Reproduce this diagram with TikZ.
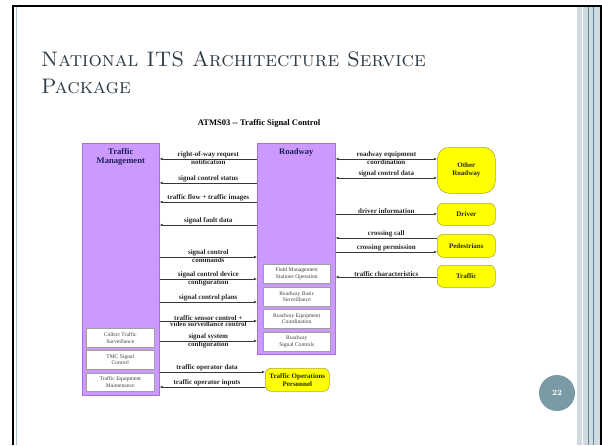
\documentclass[tikz,border=0pt]{standalone}
\usepackage{fontspec}
\newfontfamily\diagfont{Liberation Serif}
\usepackage{xcolor}
\usetikzlibrary{
    arrows.meta,
    calc,
    positioning
}
\definecolor{slidetitle}{RGB}{43,58,69}
\definecolor{frameblue}{RGB}{176,196,208}
\definecolor{stripe}{RGB}{208,219,225}
\definecolor{stripeline}{RGB}{95,136,150}
\definecolor{pagedot}{RGB}{122,155,165}
\definecolor{entviolet}{RGB}{204,153,255}
\definecolor{entedge}{RGB}{165,110,225}
\definecolor{termyellow}{RGB}{255,255,0}
\definecolor{termedge}{RGB}{175,170,40}
\definecolor{headnavy}{RGB}{30,30,85}
\definecolor{flowgray}{RGB}{55,55,55}

\begin{document}
\begin{tikzpicture}[x=1pt, y=-1pt,
    >={Latex[length=3pt,width=2.4pt]},
    subsys/.style={draw=entedge, fill=entviolet, line width=0.6pt, anchor=north west, inner sep=0pt},
    equip/.style={draw=gray!75, fill=white, line width=0.5pt, anchor=north west, inner sep=0pt,
        align=center, font=\diagfont\fontsize{5.6}{6.6}\selectfont, text=black!75},
    term/.style={draw=termedge, fill=termyellow, line width=0.6pt, rounded corners=6pt,
        anchor=north west, inner sep=0pt, align=center,
        font=\diagfont\bfseries\fontsize{7}{8}\selectfont, text=black!85},
    head/.style={font=\diagfont\bfseries\fontsize{8.6}{9.4}\selectfont, text=headnavy, align=center, anchor=north},
    lab/.style={font=\diagfont\bfseries\fontsize{7}{8}\selectfont, inner sep=0.6pt, text=black!85}
]
\useasboundingbox (0,0) rectangle (602,445);

% slide frame
\fill[white] (0,0) rectangle (602,445);
\fill[stripe] (577,6) rectangle (600,445);
\draw[white, line width=0.8pt] (582,6) -- (582,445);
\draw[stripeline, line width=0.8pt] (588,6) -- (588,445);
\draw[stripeline, line width=0.6pt] (593,6) -- (593,445);
\draw[black, line width=2pt] (13,445) -- (13,6) -- (601,6) -- (601,445);
\draw[frameblue, line width=1.5pt] (16.5,7) -- (16.5,445);

% slide title
\node[anchor=base west, inner sep=0pt, text=slidetitle, font=\fontsize{21}{25}\selectfont]
    (ttl1) at (41,66) {\textsc{National ITS Architecture Service}};
\node[anchor=base west, inner sep=0pt, text=slidetitle, font=\fontsize{21}{25}\selectfont]
    (ttl2) at (41,93) {\textsc{Package}};

\node[font=\diagfont\bfseries\fontsize{8.5}{10}\selectfont] (dgt) at (259,123)
    {ATMS03 -- Traffic Signal Control};

% subsystems
\node[subsys, minimum width=77pt, minimum height=252pt] (tm) at (82,143) {};
\node[subsys, minimum width=78pt, minimum height=211pt] (rw) at (257,143) {};
\node[head] (tmh) at ($(tm.north)+(0,2)$) {Traffic\\Management};
\node[head] (rwh) at ($(rw.north)+(0,2)$) {Roadway};

% equipment packages
\node[equip, minimum width=68pt, minimum height=19pt] (cts) at (86,328) {Collect Traffic\\Surveillance};
\node[equip, minimum width=68pt, minimum height=19pt] (tmc) at (86,350) {TMC Signal\\Control};
\node[equip, minimum width=68pt, minimum height=18pt] (tem) at (86,373) {Traffic Equipment\\Maintenance};
\node[equip, minimum width=67pt, minimum height=19pt] (fms) at (263,264) {Field Management\\Stations Operation};
\node[equip, minimum width=67pt, minimum height=19pt] (rbs) at (263,287) {Roadway Basic\\Surveillance};
\node[equip, minimum width=67pt, minimum height=19pt] (rec) at (263,309) {Roadway Equipment\\Coordination};
\node[equip, minimum width=67pt, minimum height=19pt] (rsc) at (263,332) {Roadway\\Signal Controls};

% terminators
\node[term, rounded corners=12pt, minimum width=58pt, minimum height=46pt] (orw) at (437,147) {Other\\Roadway};
\node[term, minimum width=58pt, minimum height=22pt] (drv) at (437,203) {Driver};
\node[term, minimum width=58pt, minimum height=23pt] (ped) at (437,234) {Pedestrians};
\node[term, minimum width=58pt, minimum height=22pt] (trf) at (437,265) {Traffic};
\node[term, minimum width=64pt, minimum height=23pt] (top) at (265,368) {Traffic Operations\\Personnel};

% flows
\draw[flowgray, line width=0.45pt]
    (tm.east |- 0,159) edge[<-] node[lab, above]{right-of-way request} node[lab, below]{notification} (rw.west |- 0,159)
    (tm.east |- 0,183) edge[<-] node[lab, above]{signal control status} (rw.west |- 0,183)
    (tm.east |- 0,202) edge[<-] node[lab, above]{traffic flow + traffic images} (rw.west |- 0,202)
    (tm.east |- 0,225) edge[<-] node[lab, above]{signal fault data} (rw.west |- 0,225)
    (tm.east |- 0,257) edge[->] node[lab, above]{signal control} node[lab, below]{commands} (rw.west |- 0,257)
    (tm.east |- 0,279) edge[->] node[lab, above]{signal control device} node[lab, below]{configuration} (rw.west |- 0,279)
    (tm.east |- 0,302) edge[->] node[lab, above]{signal control plans} (rw.west |- 0,302)
    (tm.east |- 0,321) edge[->] node[lab, above]{traffic sensor control +} node[lab, below]{video surveillance control} (rw.west |- 0,321)
    (tm.east |- 0,341) edge[->] node[lab, above]{signal system} node[lab, below]{configuration} (rw.west |- 0,341)
    (tm.east |- 0,372) edge[->] node[lab, above, pos=0.45]{traffic operator data} (top.west |- 0,372)
    (tm.east |- 0,387) edge[<-] node[lab, above, pos=0.45]{traffic operator inputs} (top.west |- 0,387);

\draw[flowgray, line width=0.45pt]
    (rw.east |- 0,159) edge[<->] node[lab, above]{roadway equipment} node[lab, below]{coordination} (orw.west |- 0,159)
    (rw.east |- 0,178) edge[<->] node[lab, above]{signal control data} (orw.west |- 0,178)
    (rw.east |- 0,214) edge[->] node[lab, above]{driver information} (drv.west |- 0,214)
    (rw.east |- 0,238) edge[<-] node[lab, above]{crossing call} (ped.west |- 0,238)
    (rw.east |- 0,252) edge[->] node[lab, above]{crossing permission} (ped.west |- 0,252)
    (rw.east |- 0,277) edge[<-] node[lab, above]{traffic characteristics} (trf.west |- 0,277);

% page number
\node[circle, fill=pagedot, minimum size=36pt, inner sep=0pt, text=white,
    font=\bfseries\fontsize{8}{9}\selectfont] (pgno) at (557,393) {22};
\end{tikzpicture}
\end{document}
